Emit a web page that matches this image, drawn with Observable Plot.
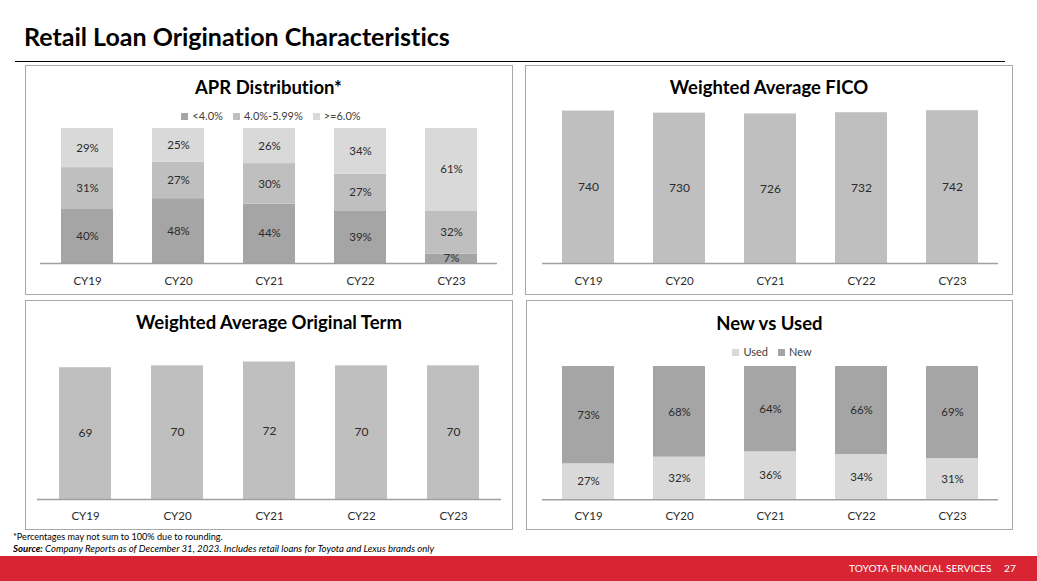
<!DOCTYPE html>
<html><head><meta charset="utf-8">
<script src="https://cdn.jsdelivr.net/npm/d3@7"></script>
<script src="https://cdn.jsdelivr.net/npm/@observablehq/plot@0.6"></script>
<style>
body{margin:0;background:#fff;}
#page{position:relative;width:1037px;height:581px;overflow:hidden;font-family:Lato,sans-serif;color:#000;font-variant-ligatures:none;}
#page *{font-variant-ligatures:none;}
.abs{position:absolute;}
.panel{position:absolute;border:1.5px solid #a8a8a8;box-sizing:border-box;}
.ptitle{position:absolute;font-weight:700;font-size:18.5px;text-align:center;line-height:22px;white-space:nowrap;}
.legend{position:absolute;display:flex;justify-content:center;align-items:center;font-size:11px;color:#404040;line-height:12px;}
.legend .item{display:flex;align-items:center;margin:0 5px;}
.legend .sw{width:7px;height:7px;margin-right:4px;}
.plot{position:absolute;}
</style></head>
<body><div id="page"></div>
<script>
// ---- data ----
const years = ["CY19","CY20","CY21","CY22","CY23"];
const aprBuckets = ["<4.0%","4.0%-5.99%",">=6.0%"];
const aprBelow4 = [40,48,44,39,7];
const apr4to6 = [31,27,30,27,32];
const aprAbove6 = [29,25,26,34,61];
const ficoValues = [740,730,726,732,742];
const termValues = [69,70,72,70,70];
const usageTypes = ["Used","New"];
const usedShare = [27,32,36,34,31];
const newShare = [73,68,64,66,69];

const aprColors = ["#a5a5a5","#bfbfbf","#d9d9d9"];
const usageColors = ["#d9d9d9","#a5a5a5"];
const barColor = "#bfbfbf";
const textColor = "#2b2b2b";

const page = document.getElementById("page");
function el(tag, cls, css, html) {
  const e = document.createElement(tag);
  if (cls) e.className = cls;
  Object.assign(e.style, css || {});
  if (html != null) e.innerHTML = html;
  page.appendChild(e);
  return e;
}

// ---- slide chrome ----
el("div", "abs", {left:"24px", top:"21px", fontSize:"25px", fontWeight:"700", lineHeight:"30px", whiteSpace:"nowrap"}, "Retail Loan Origination Characteristics");
el("div", "abs", {left:"15px", top:"60.5px", width:"990px", height:"1px", background:"#000"});

const panels = [
  {left:25, top:64.5, width:487.5, height:230},
  {left:525, top:64.5, width:488, height:230.5},
  {left:25, top:300, width:488, height:230},
  {left:526, top:300, width:487, height:230}
];
panels.forEach(p => el("div", "panel", {left:p.left+"px", top:p.top+"px", width:p.width+"px", height:p.height+"px"}));

function title(text, cx, cy) {
  el("div", "ptitle", {left:(cx-200)+"px", width:"400px", top:(cy-11)+"px"}, text);
}
title("APR Distribution*", 268.5, 87);
title("Weighted Average FICO", 769, 87);
title("Weighted Average Original Term", 269, 322);
title("New vs Used", 769.5, 323);

function legend(cats, colors, cx, cy) {
  const lg = el("div", "legend", {left:(cx-200)+"px", width:"400px", top:(cy-6)+"px", height:"12px"});
  cats.forEach((c, i) => {
    const it = document.createElement("span"); it.className = "item";
    const sw = document.createElement("span"); sw.className = "sw"; sw.style.background = colors[i];
    const tx = document.createElement("span"); tx.textContent = c;
    it.appendChild(sw); it.appendChild(tx); lg.appendChild(it);
  });
}
legend(aprBuckets, aprColors, 271, 116);
legend(usageTypes, usageColors, 772, 352);

// ---- charts ----
function place(svg, left, top) {
  svg.classList.add("plot");
  svg.style.left = left + "px";
  svg.style.top = top + "px";
  page.appendChild(svg);
}

const xScale = (tickPad) => ({domain: years, paddingInner: 0.43, paddingOuter: 0.215, label: null, tickSize: 0, tickPadding: tickPad});
const plotStyle = {fontFamily: "Lato, sans-serif", fontSize: "11.5px", color: textColor, background: "transparent", overflow: "visible"};

function stackedChart(cfg) {
  const data = [];
  years.forEach((y, i) => cfg.series.forEach((s, j) => data.push({year: y, cat: cfg.cats[j], value: s[i]})));
  return Plot.plot({
    width: cfg.width, height: cfg.height,
    marginTop: cfg.mt, marginBottom: cfg.mb, marginLeft: cfg.ml, marginRight: cfg.mr,
    style: plotStyle,
    x: xScale(cfg.tickPad),
    y: {domain: [0, 100], axis: null},
    color: {domain: cfg.cats, range: cfg.colors},
    marks: [
      Plot.barY(data, {x: "year", y: "value", fill: "cat", z: "cat"}),
      Plot.text(data, Plot.stackY({x: "year", y: "value", z: "cat", text: d => d.value + "%", fill: textColor, fontSize: 11.5})),
      Plot.ruleY([0], {stroke: "#a0a0a0", strokeWidth: 1.5})
    ]
  });
}

function simpleChart(cfg) {
  const data = years.map((y, i) => ({year: y, value: cfg.values[i]}));
  return Plot.plot({
    width: cfg.width, height: cfg.height,
    marginTop: cfg.mt, marginBottom: cfg.mb, marginLeft: cfg.ml, marginRight: cfg.mr,
    style: plotStyle,
    x: xScale(cfg.tickPad),
    y: {domain: cfg.domain, axis: null},
    marks: [
      Plot.barY(data, {x: "year", y: "value", fill: barColor}),
      Plot.text(data, {x: "year", y: d => d.value / 2, text: d => String(d.value), fill: textColor, fontSize: 12}),
      Plot.ruleY([0], {stroke: "#a0a0a0", strokeWidth: 1.5})
    ]
  });
}

place(stackedChart({width: 487, height: 229, mt: 63, mb: 31, ml: 15, mr: 15, tickPad: 13.5,
  series: [aprBelow4, apr4to6, aprAbove6], cats: aprBuckets, colors: aprColors}), 25, 65);

place(simpleChart({width: 488, height: 231, mt: 34.2, mb: 32, ml: 17, mr: 15, tickPad: 13.5,
  values: ficoValues, domain: [0, 800]}), 525, 64);

place(simpleChart({width: 488, height: 230, mt: 46.2, mb: 31, ml: 12, mr: 12, tickPad: 12.5,
  values: termValues, domain: [0, 80]}), 25, 300);

place(stackedChart({width: 487, height: 230, mt: 66, mb: 30.7, ml: 16, mr: 15, tickPad: 12.5,
  series: [usedShare, newShare], cats: usageTypes, colors: usageColors}), 526, 300);

// ---- footnotes & footer ----
el("div", "abs", {left:"13px", top:"531px", fontSize:"9.1px", lineHeight:"11px", whiteSpace:"nowrap", color:"#000"},
  "*Percentages may not sum to 100% due to rounding.");
el("div", "abs", {left:"13px", top:"543px", fontSize:"9.6px", lineHeight:"11px", whiteSpace:"nowrap", fontStyle:"italic", color:"#000"},
  "<b>Source:</b> Company Reports as of December 31, 2023. Includes retail loans for Toyota and Lexus brands only");
el("div", "abs", {left:"0px", top:"556px", width:"1037px", height:"25px", background:"#d82433"});
el("div", "abs", {left:"849px", top:"562px", fontSize:"10.2px", lineHeight:"13px", whiteSpace:"nowrap", color:"#fff"},
  "TOYOTA FINANCIAL SERVICES");
el("div", "abs", {left:"1004px", top:"562px", fontSize:"10.2px", lineHeight:"13px", whiteSpace:"nowrap", color:"#fff"}, "27");
</script>
</body></html>
